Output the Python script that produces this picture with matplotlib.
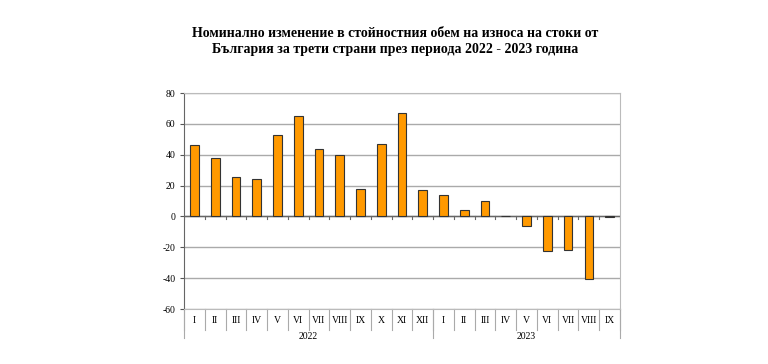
import matplotlib.pyplot as plt
import matplotlib.transforms as mtransforms
import numpy as np

plt.rcParams['font.family'] = ['Liberation Serif', 'DejaVu Serif']
plt.rcParams['axes.unicode_minus'] = False

months = ["I", "II", "III", "IV", "V", "VI", "VII", "VIII", "IX", "X", "XI", "XII",
          "I", "II", "III", "IV", "V", "VI", "VII", "VIII", "IX"]
years = ["2022", "2023"]
year_counts = [12, 9]
values = [46, 38, 25.5, 24.5, 52.5, 65, 43.5, 40, 18, 47, 67, 17,
          14, 4, 10, 0.5, -6, -22.5, -21.5, -40.5, -0.5]
title = ("Номинално изменение в стойностния обем на износа на стоки от\n"
         "България за трети страни през периода 2022 - 2023 година")

fig = plt.figure(figsize=(7.68, 3.64), dpi=100)
ax = fig.add_axes([0.2396, 0.151, 0.5677, 0.5935])

x = np.arange(len(values))
ax.bar(x, values, width=0.42, color='#FF9900', edgecolor='#333333', linewidth=0.8, zorder=3)

ax.set_xlim(-0.5, len(values) - 0.5)
ax.set_ylim(-60, 80)
ax.set_yticks(np.arange(-60, 81, 20))
ax.tick_params(axis='y', labelsize=7, length=3, color='#555555', pad=3)
ax.set_xticks([])
ax.grid(axis='y', color='#aaaaaa', linewidth=1)
ax.set_axisbelow(True)
for s in ['top', 'right', 'bottom']:
    ax.spines[s].set_color('#bbbbbb')
ax.spines['left'].set_color('#666666')

# zero line with ticks
ax.axhline(0, color='#666666', linewidth=1, zorder=2)
for b in np.arange(-0.5, len(values), 1):
    ax.plot([b, b], [0, -1.8], color='#666666', linewidth=0.8, zorder=2)

trans = mtransforms.blended_transform_factory(ax.transData, ax.transAxes)
# month labels and separators
for i, m in enumerate(months):
    ax.text(i, -0.03, m, transform=trans, ha='center', va='top', fontsize=7)
for b in np.arange(-0.5, len(values), 1):
    ax.plot([b, b], [0, -0.097], transform=trans, color='#aaaaaa', linewidth=0.8, clip_on=False)

# year labels
start = -0.5
ax.plot([start, start], [0, -0.134], transform=trans, color='#aaaaaa', linewidth=0.8, clip_on=False)
for yr, n in zip(years, year_counts):
    ax.text(start + n / 2, -0.105, yr, transform=trans, ha='center', va='top', fontsize=7)
    start += n
    ax.plot([start, start], [0, -0.134], transform=trans, color='#aaaaaa', linewidth=0.8, clip_on=False)

fig.text(0.515, 0.925, title, ha='center', va='top', fontsize=10, fontweight='bold', linespacing=1.25)

fig.savefig('out.png', dpi=100)
